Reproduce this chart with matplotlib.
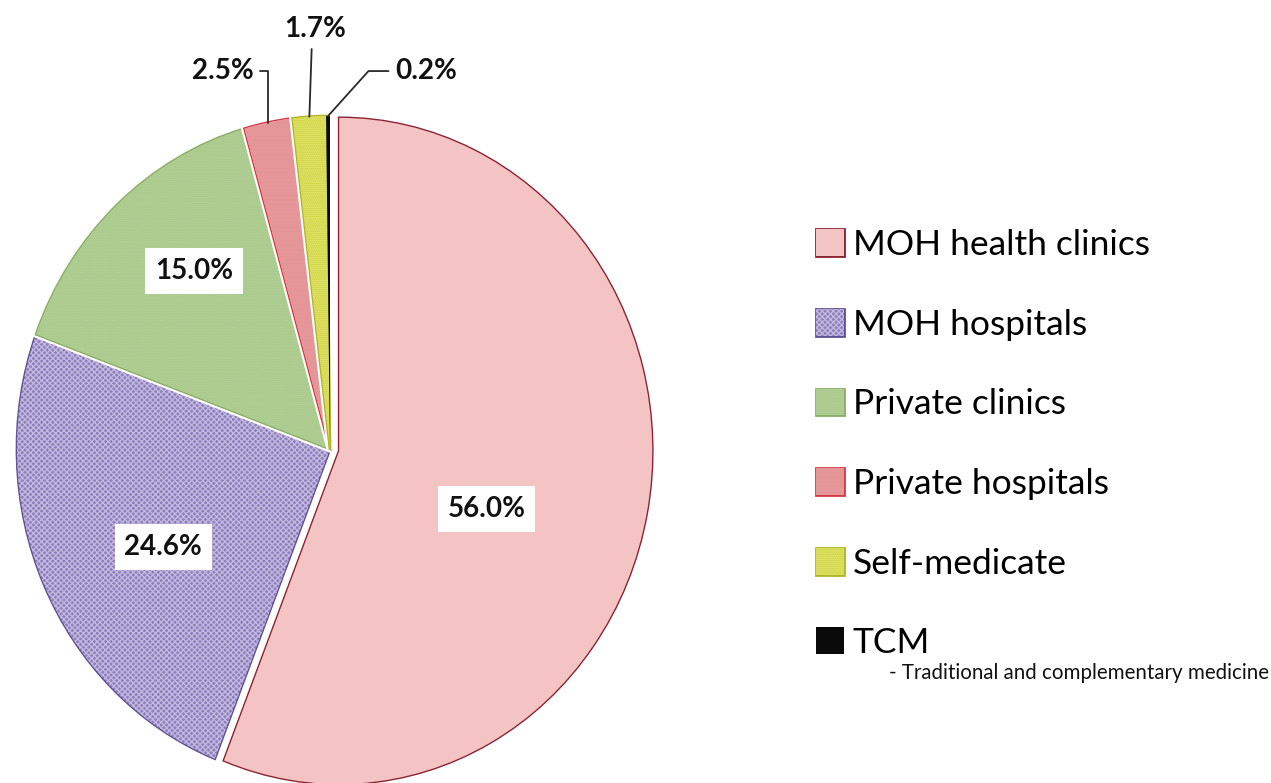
import matplotlib
matplotlib.use("Agg")
import matplotlib.pyplot as plt
import matplotlib.patheffects as pe
import numpy as np

# ------------------------------------------------------------ data
categories = ["MOH health clinics", "MOH hospitals", "Private clinics",
              "Private hospitals", "Self-medicate", "TCM"]
shares     = [56.0, 24.6, 15.0, 2.5, 1.7, 0.2]
pct_labels = ["56.0%", "24.6%", "15.0%", "2.5%", "1.7%", "0.2%"]
tcm_note   = "- Traditional and complementary medicine"

# ------------------------------------------------------------ styles
face     = ["#F4C3C4", "#8F80BD", "#A8C78A", "#F4C2C2", "#E3E76E", "#0A0A0A"]
hatchcol = ["#F4C3C4", "#C3BAE0", "#B6D49A", "#E59597", "#C9CD3C", "#0A0A0A"]
outline  = ["#8C2431", "#5F5096", "#8AAE66", "#D8383F", "#B2B42A", None]
hatches  = [None, "xxxxxx", "........", "-------------", "........", None]
explode  = [0.03, 0, 0, 0, 0, 0]

# label positions in pie units (x: rx, y: ry), inside-box labels first
label_pos = [(0.50, -0.18), (-0.533, -0.294), (-0.435, 0.535),
             (-0.343, 1.135), (-0.048, 1.261), (0.308, 1.135)]

plt.rcParams['font.family'] = ['Lato', 'DejaVu Sans']
plt.rcParams['hatch.linewidth'] = 0.9

W, H = 1271, 783
fig = plt.figure(figsize=(W / 100, H / 100), dpi=100)

# pie centre / radii in pixels (picture is slightly stretched vertically)
cx, cy, rx, ry = 330, 449, 313, 333
lim = 1.1
ax = fig.add_axes([(cx - lim * rx) / W, (H - cy - lim * ry) / H,
                   2 * lim * rx / W, 2 * lim * ry / H])

wedges, _ = ax.pie(shares, startangle=90, counterclock=False, explode=explode,
                   colors=face, hatch=hatches, radius=1.0,
                   wedgeprops=dict(linewidth=0))
for i, w in enumerate(wedges):
    w.set_edgecolor(hatchcol[i])
    w.set_linewidth(0)
    if outline[i] is None:
        continue
    w.set_path_effects([pe.Stroke(linewidth=5, foreground="white"),
                        pe.Stroke(linewidth=2, foreground=outline[i]),
                        pe.Normal()])
ax.set_aspect('auto')
ax.set_xlim(-lim, lim)
ax.set_ylim(-lim, lim)
ax.axis('off')

# big labels with white boxes
for i in range(3):
    ax.text(*label_pos[i], pct_labels[i], ha='center', va='center',
            fontsize=20, fontweight='bold', color='#111111',
            bbox=dict(boxstyle='square,pad=0.35', facecolor='white', edgecolor='none'))

# small labels with leader lines
leader = [dict(relpos=(1.0, 0.5), connectionstyle="angle,angleA=0,angleB=90,rad=0"),
          dict(relpos=(0.45, 0.0), connectionstyle="arc3"),
          dict(relpos=(0.0, 0.5), connectionstyle="angle,angleA=0,angleB=48,rad=0")]
for k, i in enumerate(range(3, 6)):
    w = wedges[i]
    mid = np.deg2rad((w.theta1 + w.theta2) / 2)
    tip = (w.center[0] + w.r * np.cos(mid), w.center[1] + w.r * np.sin(mid))
    ax.annotate(pct_labels[i], xy=tip, xytext=label_pos[i], ha='center', va='center',
                fontsize=20, fontweight='bold', color='#111111',
                arrowprops=dict(arrowstyle='-', color='#2a2a2a', lw=1.3,
                                shrinkA=3, shrinkB=0, **leader[k]))

# legend
fig.legend(wedges, categories, loc='upper left',
           bbox_to_anchor=(816 / W, 1 - 229 / H), frameon=False,
           fontsize=25.5, handlelength=0.79, handleheight=0.79,
           handletextpad=0.25, labelspacing=1.345, borderpad=0, borderaxespad=0)
fig.text(889 / W, 1 - 673 / H, tcm_note, fontsize=14.8, va='center', ha='left',
         color='#111111')

fig.savefig("out.png", dpi=100)
